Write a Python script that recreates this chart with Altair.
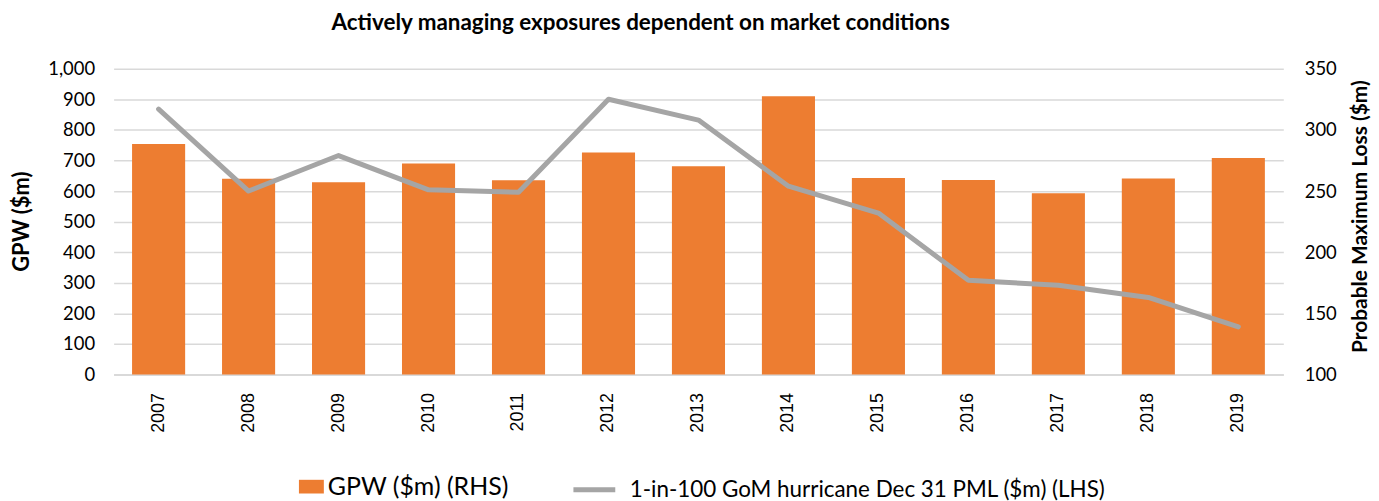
import altair as alt
import pandas as pd

years = [str(y) for y in range(2007, 2020)]
gpw = [754, 640, 629, 690, 635, 726, 681, 910, 643, 636, 593, 641, 708]
pml = [317, 250, 279, 251, 249, 325, 308, 254, 232, 177, 173, 163, 139]
bar_name = "GPW ($m) (RHS)"
line_name = "1-in-100 GoM hurricane Dec 31 PML ($m) (LHS)"
left_ticks = list(range(0, 1001, 100))
right_ticks = list(range(100, 351, 50))
title_text = "Actively managing exposures dependent on market conditions"

orange = "#ED7D31"
gray = "#A5A5A5"
grid = "#D9D9D9"
font = "Lato"

df = pd.DataFrame({"year": years, "gpw": gpw, "pml": pml,
                   "bar_series": bar_name, "line_series": line_name})

base = alt.Chart(df).encode(
    x=alt.X("year:N", sort=years,
            scale=alt.Scale(paddingInner=0.41, paddingOuter=0.205),
            axis=alt.Axis(title=None, labelAngle=270, labelAlign="right",
                          labelBaseline="middle", labelPadding=18,
                          labelFont="Liberation Sans", labelFontSize=18,
                          labelColor="#000000", ticks=False,
                          domainColor=grid, domainWidth=2, grid=False))
)

bars = base.mark_bar().encode(
    y=alt.Y("gpw:Q", scale=alt.Scale(domain=[0, 1000], nice=False),
            axis=alt.Axis(values=left_ticks, format=",.0f", title="GPW ($m)",
                          titleFont=font, titleFontSize=22, titleFontWeight="bold",
                          titleColor="#000000", titleAngle=270, titleAlign="center",
                          titleBaseline="middle", titleX=-92, titleY=153,
                          titleLimit=1000,
                          labelFont=font, labelFontSize=18.5, labelColor="#000000",
                          labelPadding=19, domain=False, ticks=False,
                          gridColor=grid, gridWidth=1.5)),
    color=alt.Color("bar_series:N",
                    scale=alt.Scale(domain=[bar_name], range=[orange]),
                    legend=alt.Legend(title=None, orient="none", legendX=186, legendY=407,
                                      direction="horizontal",
                                      symbolType="M-1,-0.55H1V0.55H-1Z", symbolSize=625,
                                      symbolStrokeWidth=0, labelFont=font, labelFontSize=25,
                                      labelColor="#000000", labelOffset=4, padding=0,
                                      labelLimit=1000)),
)

line = base.mark_line(strokeWidth=5, strokeCap="round", strokeJoin="round").encode(
    y=alt.Y("pml:Q", scale=alt.Scale(domain=[100, 350], nice=False),
            axis=alt.Axis(orient="right", values=right_ticks, grid=False,
                          title="Probable Maximum Loss ($m)",
                          titleFont=font, titleFontSize=21, titleFontWeight="bold",
                          titleColor="#000000", titleAngle=270, titleAlign="center",
                          titleBaseline="middle", titleX=77, titleY=148,
                          titleLimit=1000,
                          labelFont=font, labelFontSize=18.5, labelColor="#000000",
                          labelPadding=21, domain=False, ticks=False)),
    stroke=alt.Stroke("line_series:N",
                      scale=alt.Scale(domain=[line_name], range=[gray]),
                      legend=alt.Legend(title=None, orient="none", legendX=459, legendY=399,
                                        direction="horizontal", symbolType="stroke",
                                        symbolSize=1764, symbolStrokeWidth=5,
                                        labelFont=font, labelFontSize=22.5,
                                        labelColor="#000000", labelOffset=12, padding=0,
                                        labelLimit=1000)),
)

chart = alt.layer(bars, line).resolve_scale(y="independent").properties(
    width=1174, height=307,
    padding={"left": 106, "top": 60, "right": 88, "bottom": 127},
    autosize=alt.AutoSizeParams(type="none"),
    title=alt.Title(title_text, font=font, fontSize=22.5, fontWeight="bold",
                    color="#000000", anchor="middle", dx=-58, offset=25),
).configure_view(stroke=None)

chart.save("out.html", embed_options={"renderer": "svg", "actions": False})
